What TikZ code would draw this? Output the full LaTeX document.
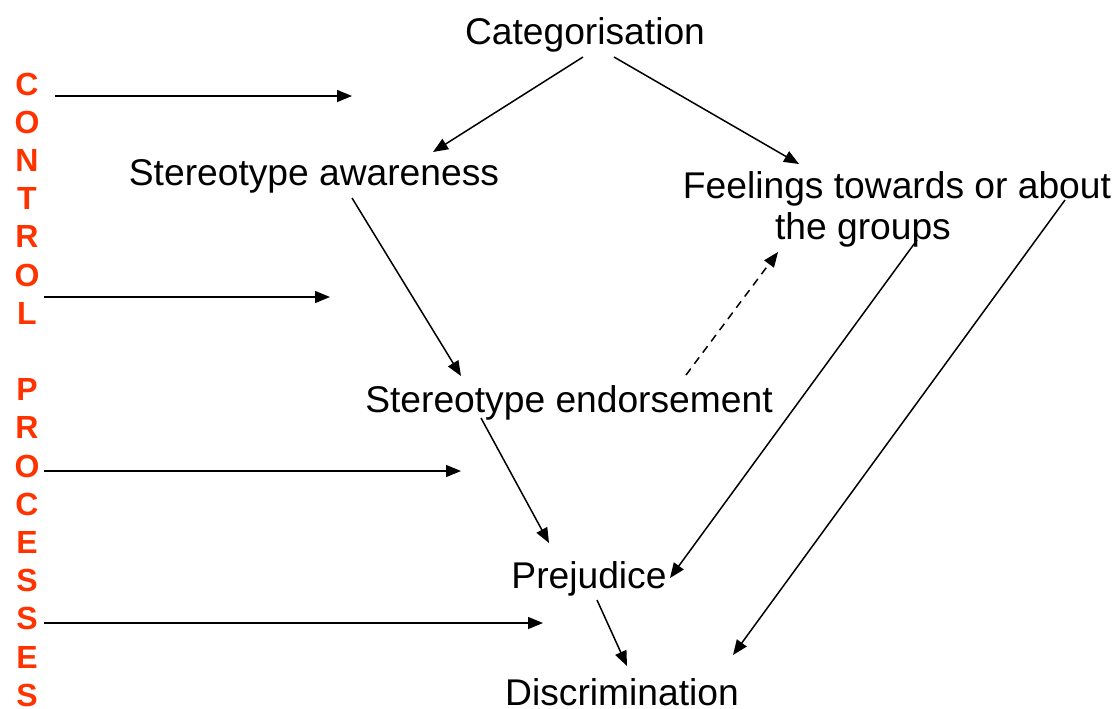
\documentclass[tikz,border=0pt]{standalone}
\usepackage{fontspec}
\setmainfont{Liberation Sans}
\usetikzlibrary{arrows.meta}
\definecolor{ctrlred}{RGB}{255,51,0}

\begin{document}
\begin{tikzpicture}[x=0.5pt, y=-0.5pt,
    label text/.style={font=\fontsize{18.6}{20.5}\selectfont, inner sep=0pt, anchor=base, align=center},
    ctrl letter/.style={font=\fontsize{16}{16}\selectfont\bfseries, text=ctrlred, inner sep=0pt, anchor=base},
    arr/.style={-{Triangle[length=7.5pt, width=6pt]}, line width=0.75pt},
    dash arr/.style={arr, dash pattern=on 4pt off 3pt}]
    \useasboundingbox (0,0) rectangle (1115,708);

    % The stages of the model
    \node[label text] (cat) at (585,44) {Categorisation};
    \node[label text] (aware) at (314,185) {Stereotype awareness};
    \node[label text] (feel) at (897,239) {Feelings towards or about\\the groups\hspace*{34pt}};
    \node[label text] (endorse) at (569,412) {Stereotype endorsement};
    \node[label text] (prej) at (589,588) {Prejudice};
    \node[label text] (discr) at (622,705) {Discrimination};

    % Ends of the connectors
    \coordinate (cat-l) at ([shift={(-2,13)}]cat.base);
    \coordinate (cat-r) at ([shift={(29,13)}]cat.base);
    \coordinate (aware-in) at ([shift={(119,-33)}]aware.base);
    \coordinate (aware-out) at ([shift={(38,13)}]aware.base);
    \coordinate (feel-in) at ([shift={(-98,-75)}]feel.base);
    \coordinate (feel-dash) at ([shift={(-119,13)}]feel.base);
    \coordinate (feel-out1) at ([shift={(20,1)}]feel.base);
    \coordinate (feel-out2) at ([shift={(168,-39)}]feel.base);
    \coordinate (endorse-in) at ([shift={(-108,-36)}]endorse.base);
    \coordinate (endorse-out) at ([shift={(-88,6)}]endorse.base);
    \coordinate (endorse-dash) at ([shift={(117,-37)}]endorse.base);
    \coordinate (prej-in1) at ([shift={(-40,-45)}]prej.base);
    \coordinate (prej-in2) at ([shift={(81,-10)}]prej.base);
    \coordinate (prej-out) at ([shift={(8,12)}]prej.base);
    \coordinate (discr-in1) at ([shift={(5,-39)}]discr.base);
    \coordinate (discr-in2) at ([shift={(111,-50)}]discr.base);

    % Connectors
    \draw[arr] (cat-l) -- (aware-in);
    \draw[arr] (cat-r) -- (feel-in);
    \draw[arr] (aware-out) -- (endorse-in);
    \draw[dash arr] (endorse-dash) -- (feel-dash);
    \draw[arr] (endorse-out) -- (prej-in1);
    \draw[arr] (feel-out1) -- (prej-in2);
    \draw[arr] (feel-out2) -- (discr-in2);
    \draw[arr] (prej-out) -- (discr-in1);

    % Control processes
    \foreach \ch [count=\i from 0] in {C,O,N,T,R,O,L}
        \node[ctrl letter] (ctrl-\i) at (27,{95+38.2*\i}) {\ch};
    \foreach \ch [count=\i from 8] in {P,R,O,C,E,S,S,E,S}
        \node[ctrl letter] (ctrl-\i) at (27,{95+38.2*\i}) {\ch};
    \foreach \xs/\y/\xe [count=\i] in {55/96/352, 44/297/330, 44/471/461, 44/623/543} {
        \coordinate (ctrl-s\i) at (\xs,\y);
        \coordinate (ctrl-e\i) at (\xe,\y);
        \draw[arr] (ctrl-s\i) -- (ctrl-e\i);
    }
\end{tikzpicture}
\end{document}
